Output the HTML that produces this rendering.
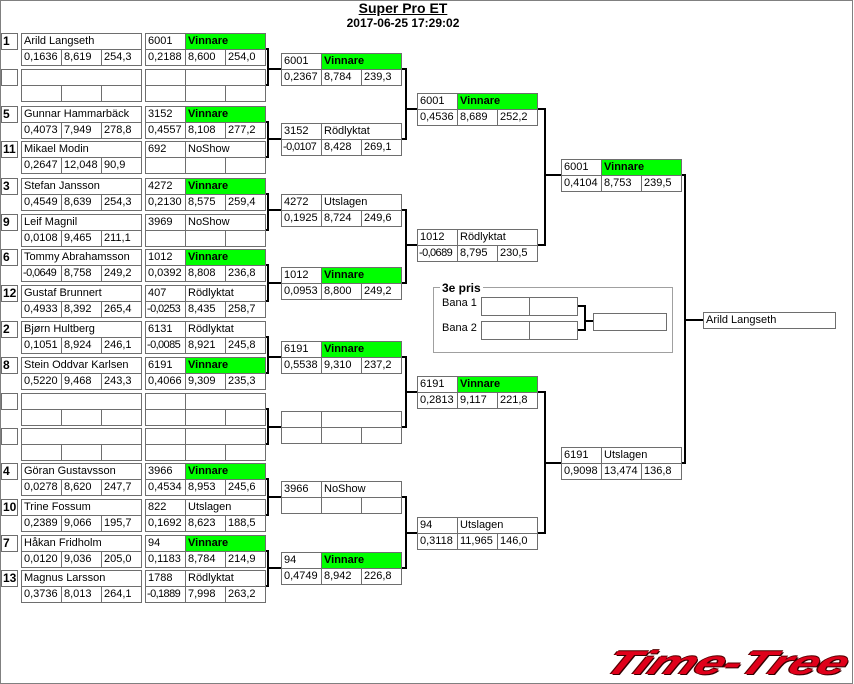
<!DOCTYPE html>
<html><head><meta charset="utf-8">
<style>
html,body{margin:0;padding:0;background:#fff;}
body{width:854px;height:684px;position:relative;overflow:hidden;font-family:"Liberation Sans",Arial,sans-serif;}
.frame{position:absolute;left:0;top:0;width:853px;height:684px;box-sizing:border-box;border:1px solid #808080;}
.w{position:absolute;}
.c{position:absolute;box-sizing:border-box;border:1px solid #6e6e6e;height:17px;font-size:11px;line-height:15px;padding-left:2px;white-space:nowrap;overflow:hidden;background:#fff;color:#000;}
.g{background:#00ff00;font-weight:bold;}
.m{letter-spacing:-0.6px;padding-left:1px;}
.s{left:0;top:0;width:17px;font-weight:bold;font-size:12px;padding-left:1px;}
.n{left:20px;top:0;width:121px;}
.p{left:20px;top:16px;width:41px;}
.q{left:60px;top:16px;width:41px;}
.r{left:100px;top:16px;width:41px;}
.a{left:0;top:0;width:41px;}
.v{left:40px;top:0;width:81px;}
.x{left:0;top:16px;width:41px;}
.y{left:40px;top:16px;width:41px;}
.z{left:80px;top:16px;width:41px;}
.t{position:absolute;white-space:nowrap;}
</style></head><body>
<div class="frame"></div>

<div class="t" style="left:303px;top:1px;width:200px;text-align:center;font-size:14px;line-height:15px;font-weight:bold;text-decoration:underline;">Super Pro ET</div>
<div class="t" style="left:303px;top:17px;width:200px;text-align:center;font-size:12px;line-height:13px;font-weight:bold;">2017-06-25 17:29:02</div>

<!-- Round 1 entries -->
<div class="w" style="left:1px;top:33px"><div class="c s">1</div><div class="c n">Arild Langseth</div><div class="c p">0,1636</div><div class="c q">8,619</div><div class="c r">254,3</div></div>
<div class="w" style="left:145px;top:33px"><div class="c a">6001</div><div class="c v g">Vinnare</div><div class="c x">0,2188</div><div class="c y">8,600</div><div class="c z">254,0</div></div>

<div class="w" style="left:1px;top:69px"><div class="c s"></div><div class="c n"></div><div class="c p"></div><div class="c q"></div><div class="c r"></div></div>
<div class="w" style="left:145px;top:69px"><div class="c a"></div><div class="c v"></div><div class="c x"></div><div class="c y"></div><div class="c z"></div></div>

<div class="w" style="left:1px;top:106px"><div class="c s">5</div><div class="c n">Gunnar Hammarbäck</div><div class="c p">0,4073</div><div class="c q">7,949</div><div class="c r">278,8</div></div>
<div class="w" style="left:145px;top:106px"><div class="c a">3152</div><div class="c v g">Vinnare</div><div class="c x">0,4557</div><div class="c y">8,108</div><div class="c z">277,2</div></div>

<div class="w" style="left:1px;top:141px"><div class="c s">11</div><div class="c n">Mikael Modin</div><div class="c p">0,2647</div><div class="c q">12,048</div><div class="c r">90,9</div></div>
<div class="w" style="left:145px;top:141px"><div class="c a">692</div><div class="c v">NoShow</div><div class="c x"></div><div class="c y"></div><div class="c z"></div></div>

<div class="w" style="left:1px;top:178px"><div class="c s">3</div><div class="c n">Stefan Jansson</div><div class="c p">0,4549</div><div class="c q">8,639</div><div class="c r">254,3</div></div>
<div class="w" style="left:145px;top:178px"><div class="c a">4272</div><div class="c v g">Vinnare</div><div class="c x">0,2130</div><div class="c y">8,575</div><div class="c z">259,4</div></div>

<div class="w" style="left:1px;top:214px"><div class="c s">9</div><div class="c n">Leif Magnil</div><div class="c p">0,0108</div><div class="c q">9,465</div><div class="c r">211,1</div></div>
<div class="w" style="left:145px;top:214px"><div class="c a">3969</div><div class="c v">NoShow</div><div class="c x"></div><div class="c y"></div><div class="c z"></div></div>

<div class="w" style="left:1px;top:249px"><div class="c s">6</div><div class="c n">Tommy Abrahamsson</div><div class="c p m">-0,0649</div><div class="c q">8,758</div><div class="c r">249,2</div></div>
<div class="w" style="left:145px;top:249px"><div class="c a">1012</div><div class="c v g">Vinnare</div><div class="c x">0,0392</div><div class="c y">8,808</div><div class="c z">236,8</div></div>

<div class="w" style="left:1px;top:285px"><div class="c s">12</div><div class="c n">Gustaf Brunnert</div><div class="c p">0,4933</div><div class="c q">8,392</div><div class="c r">265,4</div></div>
<div class="w" style="left:145px;top:285px"><div class="c a">407</div><div class="c v">Rödlyktat</div><div class="c x m">-0,0253</div><div class="c y">8,435</div><div class="c z">258,7</div></div>

<div class="w" style="left:1px;top:321px"><div class="c s">2</div><div class="c n">Bjørn Hultberg</div><div class="c p">0,1051</div><div class="c q">8,924</div><div class="c r">246,1</div></div>
<div class="w" style="left:145px;top:321px"><div class="c a">6131</div><div class="c v">Rödlyktat</div><div class="c x m">-0,0085</div><div class="c y">8,921</div><div class="c z">245,8</div></div>

<div class="w" style="left:1px;top:357px"><div class="c s">8</div><div class="c n">Stein Oddvar Karlsen</div><div class="c p">0,5220</div><div class="c q">9,468</div><div class="c r">243,3</div></div>
<div class="w" style="left:145px;top:357px"><div class="c a">6191</div><div class="c v g">Vinnare</div><div class="c x">0,4066</div><div class="c y">9,309</div><div class="c z">235,3</div></div>

<div class="w" style="left:1px;top:393px"><div class="c s"></div><div class="c n"></div><div class="c p"></div><div class="c q"></div><div class="c r"></div></div>
<div class="w" style="left:145px;top:393px"><div class="c a"></div><div class="c v"></div><div class="c x"></div><div class="c y"></div><div class="c z"></div></div>

<div class="w" style="left:1px;top:428px"><div class="c s"></div><div class="c n"></div><div class="c p"></div><div class="c q"></div><div class="c r"></div></div>
<div class="w" style="left:145px;top:428px"><div class="c a"></div><div class="c v"></div><div class="c x"></div><div class="c y"></div><div class="c z"></div></div>

<div class="w" style="left:1px;top:463px"><div class="c s">4</div><div class="c n">Göran Gustavsson</div><div class="c p">0,0278</div><div class="c q">8,620</div><div class="c r">247,7</div></div>
<div class="w" style="left:145px;top:463px"><div class="c a">3966</div><div class="c v g">Vinnare</div><div class="c x">0,4534</div><div class="c y">8,953</div><div class="c z">245,6</div></div>

<div class="w" style="left:1px;top:499px"><div class="c s">10</div><div class="c n">Trine Fossum</div><div class="c p">0,2389</div><div class="c q">9,066</div><div class="c r">195,7</div></div>
<div class="w" style="left:145px;top:499px"><div class="c a">822</div><div class="c v">Utslagen</div><div class="c x">0,1692</div><div class="c y">8,623</div><div class="c z">188,5</div></div>

<div class="w" style="left:1px;top:535px"><div class="c s">7</div><div class="c n">Håkan Fridholm</div><div class="c p">0,0120</div><div class="c q">9,036</div><div class="c r">205,0</div></div>
<div class="w" style="left:145px;top:535px"><div class="c a">94</div><div class="c v g">Vinnare</div><div class="c x">0,1183</div><div class="c y">8,784</div><div class="c z">214,9</div></div>

<div class="w" style="left:1px;top:570px"><div class="c s">13</div><div class="c n">Magnus Larsson</div><div class="c p">0,3736</div><div class="c q">8,013</div><div class="c r">264,1</div></div>
<div class="w" style="left:145px;top:570px"><div class="c a">1788</div><div class="c v">Rödlyktat</div><div class="c x m">-0,1889</div><div class="c y">7,998</div><div class="c z">263,2</div></div>

<!-- Round 2 -->
<div class="w" style="left:281px;top:53px"><div class="c a">6001</div><div class="c v g">Vinnare</div><div class="c x">0,2367</div><div class="c y">8,784</div><div class="c z">239,3</div></div>
<div class="w" style="left:281px;top:123px"><div class="c a">3152</div><div class="c v">Rödlyktat</div><div class="c x m">-0,0107</div><div class="c y">8,428</div><div class="c z">269,1</div></div>
<div class="w" style="left:281px;top:194px"><div class="c a">4272</div><div class="c v">Utslagen</div><div class="c x">0,1925</div><div class="c y">8,724</div><div class="c z">249,6</div></div>
<div class="w" style="left:281px;top:267px"><div class="c a">1012</div><div class="c v g">Vinnare</div><div class="c x">0,0953</div><div class="c y">8,800</div><div class="c z">249,2</div></div>
<div class="w" style="left:281px;top:341px"><div class="c a">6191</div><div class="c v g">Vinnare</div><div class="c x">0,5538</div><div class="c y">9,310</div><div class="c z">237,2</div></div>
<div class="w" style="left:281px;top:411px"><div class="c a"></div><div class="c v"></div><div class="c x"></div><div class="c y"></div><div class="c z"></div></div>
<div class="w" style="left:281px;top:481px"><div class="c a">3966</div><div class="c v">NoShow</div><div class="c x"></div><div class="c y"></div><div class="c z"></div></div>
<div class="w" style="left:281px;top:552px"><div class="c a">94</div><div class="c v g">Vinnare</div><div class="c x">0,4749</div><div class="c y">8,942</div><div class="c z">226,8</div></div>

<!-- Round 3 -->
<div class="w" style="left:417px;top:93px"><div class="c a">6001</div><div class="c v g">Vinnare</div><div class="c x">0,4536</div><div class="c y">8,689</div><div class="c z">252,2</div></div>
<div class="w" style="left:417px;top:229px"><div class="c a">1012</div><div class="c v">Rödlyktat</div><div class="c x m">-0,0689</div><div class="c y">8,795</div><div class="c z">230,5</div></div>
<div class="w" style="left:417px;top:376px"><div class="c a">6191</div><div class="c v g">Vinnare</div><div class="c x">0,2813</div><div class="c y">9,117</div><div class="c z">221,8</div></div>
<div class="w" style="left:417px;top:517px"><div class="c a">94</div><div class="c v">Utslagen</div><div class="c x">0,3118</div><div class="c y">11,965</div><div class="c z">146,0</div></div>

<!-- Round 4 -->
<div class="w" style="left:561px;top:159px"><div class="c a">6001</div><div class="c v g">Vinnare</div><div class="c x">0,4104</div><div class="c y">8,753</div><div class="c z">239,5</div></div>
<div class="w" style="left:561px;top:447px"><div class="c a">6191</div><div class="c v">Utslagen</div><div class="c x">0,9098</div><div class="c y">13,474</div><div class="c z">136,8</div></div>

<!-- Final -->
<div class="c" style="left:703px;top:312px;width:133px;">Arild Langseth</div>

<!-- 3e pris -->
<div style="position:absolute;left:433px;top:287px;width:240px;height:66px;box-sizing:border-box;border:1px solid #a0a0a0;"></div>
<div class="t" style="left:440px;top:282px;font-size:12px;line-height:13px;font-weight:bold;background:#fff;padding:0 2px;">3e pris</div>
<div class="t" style="left:442px;top:297px;font-size:11px;line-height:13px;">Bana 1</div>
<div class="t" style="left:442px;top:322px;font-size:11px;line-height:13px;">Bana 2</div>
<div class="c" style="left:481px;top:297px;width:49px;height:19px;"></div>
<div class="c" style="left:529px;top:297px;width:49px;height:19px;"></div>
<div class="c" style="left:481px;top:321px;width:49px;height:19px;"></div>
<div class="c" style="left:529px;top:321px;width:49px;height:19px;"></div>
<div class="c" style="left:593px;top:313px;width:74px;height:18px;"></div>

<svg width="854" height="684" style="position:absolute;left:0;top:0;" xmlns="http://www.w3.org/2000/svg">
<path fill="none" stroke="#000" stroke-width="2" d="
M266 49H268V85H266M268 69H281
M266 122H268V157H266M268 139H281
M266 194H268V230H266M268 210H281
M266 265H268V301H266M268 283H281
M266 337H268V373H266M268 357H281
M266 409H268V444H266M268 427H281
M266 479H268V515H266M268 497H281
M266 551H268V586H266M268 568H281
M402 69H406V139H402M406 109H417
M402 210H406V283H402M406 245H417
M402 357H406V427H402M406 392H417
M402 497H406V568H402M406 533H417
M538 109H545V245H538M545 175H561
M538 392H545V533H538M545 463H561
M682 175H685V463H682M685 320H703
M578 306H585V330H578M585 321H593
"/>
</svg>

<!-- Logo -->
<div class="t" style="left:616px;top:646px;font-size:33px;line-height:33px;font-weight:bold;font-style:italic;color:#e0001a;letter-spacing:-0.5px;transform:scaleX(1.58) skewX(-18deg);transform-origin:left top;text-shadow:1px 1px 0 #300,-1px 0 0 #500,0 -1px 0 #500;">Time-Tree</div>

</body></html>
